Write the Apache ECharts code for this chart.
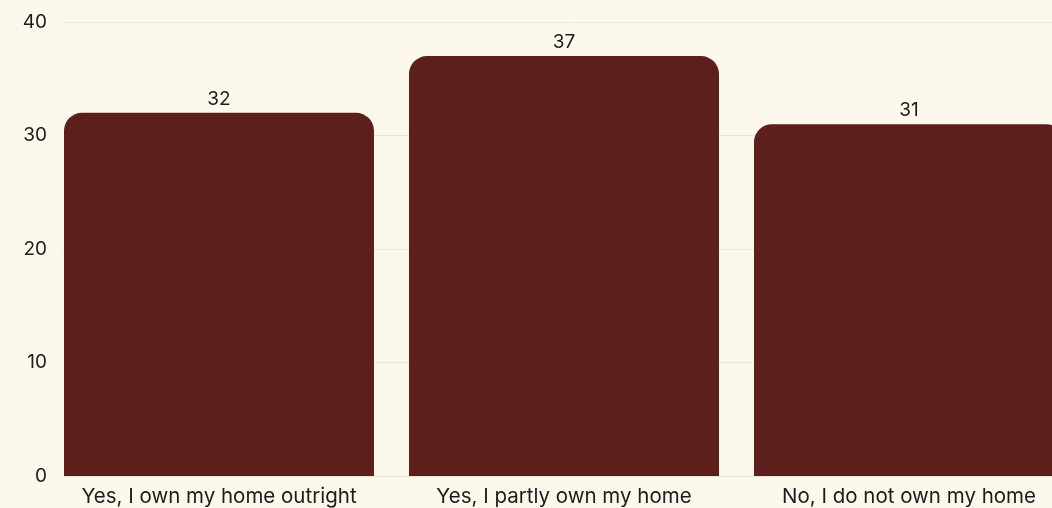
<!DOCTYPE html>
<html>
<head>
<meta charset="utf-8">
<script src="https://cdn.jsdelivr.net/npm/echarts@6/dist/echarts.min.js"></script>
<style>
  html, body { margin: 0; padding: 0; background: #fcf8ec; overflow: hidden; }
  /* the last bar runs past the right edge of the page */
  #chart { width: 1082px; height: 508px; }
</style>
</head>
<body>
<div id="chart"></div>
<script>
// Home ownership responses (%)
const categories = ['Yes, I own my home outright', 'Yes, I partly own my home', 'No, I do not own my home'];
const values = [32, 37, 31];
const yTicks = [0, 10, 20, 30, 40];

const FONT = 'Inter, "Noto Sans", sans-serif';
const TEXT = '#1c1c1c';
const BAR = '#5c1f1c';

const chart = echarts.init(document.getElementById('chart'), null, { renderer: 'canvas' });
chart.setOption({
  backgroundColor: '#fcf8ec',
  animation: false,
  grid: [
    // value scale and gridlines
    { left: 63, right: 0, top: 22, bottom: 32, containLabel: false },
    // bars: three bands of 345px
    { left: 46.5, right: 0.5, top: 22, bottom: 32, containLabel: false }
  ],
  xAxis: [
    { type: 'category', gridIndex: 0, data: [''], show: false },
    {
      type: 'category', gridIndex: 1, data: categories,
      axisLine: { show: false }, axisTick: { show: false },
      axisLabel: { interval: 0, color: TEXT, fontFamily: FONT, fontSize: 20.5, margin: 10 }
    }
  ],
  yAxis: [
    {
      type: 'value', gridIndex: 0, min: yTicks[0], max: yTicks[yTicks.length - 1], interval: 10,
      axisLine: { show: false }, axisTick: { show: false },
      axisLabel: { color: TEXT, fontFamily: FONT, fontSize: 19, margin: 16 },
      splitLine: { show: true, lineStyle: { color: '#ece6d6', width: 1 } }
    },
    {
      type: 'value', gridIndex: 1, min: yTicks[0], max: yTicks[yTicks.length - 1], interval: 10,
      show: false
    }
  ],
  series: [{
    type: 'bar',
    xAxisIndex: 1,
    yAxisIndex: 1,
    data: values,
    barWidth: 310,
    itemStyle: { color: BAR, borderRadius: [18, 18, 0, 0] },
    label: {
      show: true, position: 'top', distance: 4,
      color: TEXT, fontFamily: FONT, fontSize: 19
    }
  }]
});
</script>
</body>
</html>
